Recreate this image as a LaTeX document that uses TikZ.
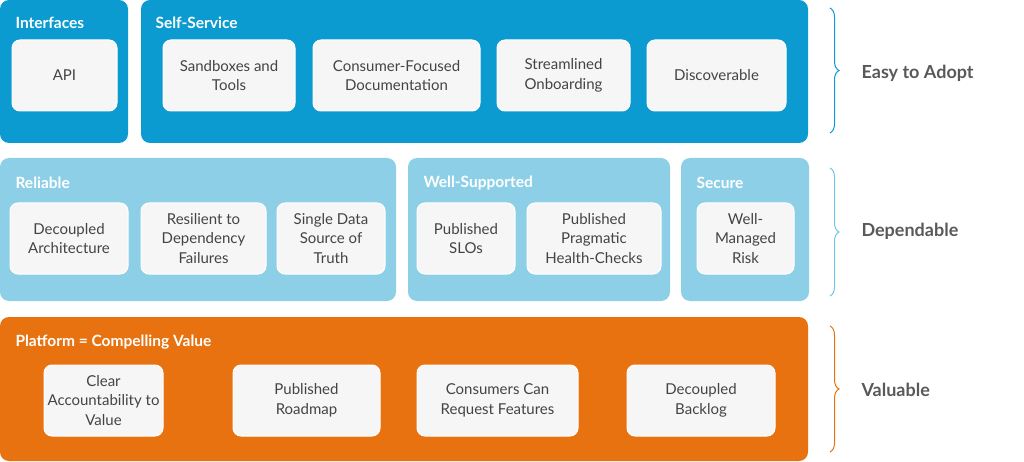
\documentclass[tikz,border=0pt]{standalone}
\usepackage{fontspec}
\setmainfont{Lato}
\usetikzlibrary{positioning,decorations.pathreplacing}
\definecolor{darkblue}{HTML}{0B9BD0}
\definecolor{lightblue}{HTML}{8ECFE8}
\definecolor{platorange}{HTML}{E8720F}
\definecolor{cardfill}{HTML}{F6F6F6}
\definecolor{inktext}{HTML}{444444}
\definecolor{sidetext}{HTML}{58595B}
\tikzset{
  panel/.style={rounded corners=9pt, draw=none},
  card/.style={rounded corners=8pt, fill=cardfill, draw=white, line width=1pt,
    minimum height=71pt, align=center, text=inktext, font=\fontsize{15}{19.5}\selectfont},
  heading/.style={anchor=west, text=white, font=\bfseries\fontsize{15.5}{18}\selectfont},
  side/.style={anchor=west, text=sidetext, font=\bfseries\fontsize{18}{21}\selectfont},
  grp/.style={decorate, decoration={brace, amplitude=9pt}, line width=1pt}
}
\begin{document}
\begin{tikzpicture}[x=1pt, y=-1pt]
\useasboundingbox (0,0) rectangle (1024,462);

% top row
\fill[panel, darkblue] (0,0) rectangle (128,143);
\fill[panel, darkblue] (141,0) rectangle (808,143);
\node[heading] (interfaces) at (12,23) {Interfaces};
\node[heading] (selfservice) at (152,23) {Self-Service};
\node[card, minimum width=105pt] (api) at (64.5,75.5) {API};
\node[card, minimum width=132pt] (sandbox) at (229,75.5) {Sandboxes and\\Tools};
\node[card, minimum width=167pt] (docs) at (396.5,75.5) {Consumer-Focused\\Documentation};
\node[card, minimum width=133pt] (onboard) at (563.5,75.5) {Streamlined\\Onboarding};
\node[card, minimum width=139pt] (discover) at (716.5,75.5) {Discoverable};

% middle row
\fill[panel, lightblue] (0,158) rectangle (396,301);
\fill[panel, lightblue] (408,158) rectangle (670,301);
\fill[panel, lightblue] (681,158) rectangle (809,301);
\node[heading] (reliable) at (12,183) {Reliable};
\node[heading] (supported) at (420,183) {Well-Supported};
\node[heading] (secure) at (693,183) {Secure};
\node[card, minimum width=118pt] (arch) at (69,238.5) {Decoupled\\Architecture};
\node[card, minimum width=125pt] (resilient) at (203.5,238.5) {Resilient to\\Dependency\\Failures};
\node[card, minimum width=108pt] (truth) at (331,238.5) {Single Data\\Source of\\Truth};
\node[card, minimum width=98pt] (slo) at (466,238.5) {Published\\SLOs};
\node[card, minimum width=134pt] (health) at (594,238.5) {Published\\Pragmatic\\Health-Checks};
\node[card, minimum width=97pt] (risk) at (745.5,238.5) {Well-\\Managed\\Risk};

% bottom row
\fill[panel, platorange] (0,317) rectangle (808,461);
\node[heading] (platform) at (12,342) {Platform = Compelling Value};
\node[card, minimum width=119pt] (account) at (103.5,400.5) {Clear\\Accountability to\\Value};
\node[card, minimum width=147pt] (roadmap) at (306.5,400.5) {Published\\Roadmap};
\node[card, minimum width=161pt] (request) at (497.5,400.5) {Consumers Can\\Request Features};
\node[card, minimum width=148pt] (backlog) at (701,400.5) {Decoupled\\Backlog};

% braces
\coordinate (adoptA) at (830,8);
\coordinate (adoptB) at (830,133);
\coordinate (dependA) at (830,168);
\coordinate (dependB) at (830,296);
\coordinate (valueA) at (830,326);
\coordinate (valueB) at (830,452);
\draw[grp, darkblue] (adoptA) -- (adoptB);
\draw[grp, lightblue!80!darkblue] (dependA) -- (dependB);
\draw[grp, platorange] (valueA) -- (valueB);
\node[side] (adopt) at (858,73) {Easy to Adopt};
\node[side] (depend) at (858,231) {Dependable};
\node[side] (value) at (858,390) {Valuable};
\end{tikzpicture}
\end{document}
